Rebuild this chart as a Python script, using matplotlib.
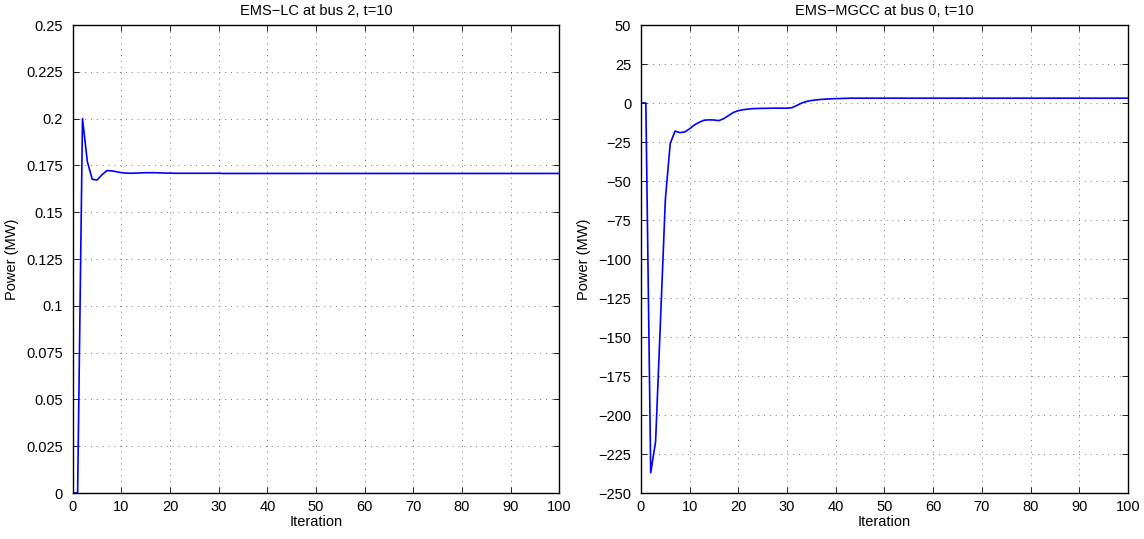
import matplotlib
matplotlib.use("Agg")
import matplotlib.pyplot as plt
import numpy as np

plt.rcParams['font.family'] = ['Liberation Sans', 'DejaVu Sans']
plt.rcParams['font.size'] = 10.5

iterations = list(range(0, 101))

lc_power = [
    0.0, 0.0, 0.2, 0.177, 0.1676, 0.1672, 0.1700, 0.1722, 0.1721, 0.1716,
    0.1711, 0.1709, 0.1708, 0.1709, 0.1710, 0.1711, 0.1711, 0.1711, 0.1710, 0.1709,
    0.1709, 0.1708, 0.1708, 0.1708, 0.1708, 0.1708, 0.1708, 0.1708, 0.1708, 0.1708,
    0.1708, 0.1707, 0.1707, 0.1707, 0.1707, 0.1707, 0.1707, 0.1707, 0.1707, 0.1707,
    0.1707, 0.1707, 0.1707, 0.1707, 0.1707, 0.1707, 0.1707, 0.1707, 0.1707, 0.1707,
    0.1707, 0.1707, 0.1707, 0.1707, 0.1707, 0.1707, 0.1707, 0.1707, 0.1707, 0.1707,
    0.1707, 0.1707, 0.1707, 0.1707, 0.1707, 0.1707, 0.1707, 0.1707, 0.1707, 0.1707,
    0.1707, 0.1707, 0.1707, 0.1707, 0.1707, 0.1707, 0.1707, 0.1707, 0.1707, 0.1707,
    0.1707, 0.1707, 0.1707, 0.1707, 0.1707, 0.1707, 0.1707, 0.1707, 0.1707, 0.1707,
    0.1707, 0.1707, 0.1707, 0.1707, 0.1707, 0.1707, 0.1707, 0.1707, 0.1707, 0.1707,
    0.1707,
]

mgcc_power = [
    0.0, 0.0, -237.0, -217.0, -140.0, -62.0, -26.0, -18.0, -19.0, -18.5,
    -16.5, -14.0, -12.3, -11.0, -10.8, -10.9, -11.3, -10.0, -8.0, -6.0,
    -4.9, -4.3, -3.9, -3.6, -3.5, -3.4, -3.4, -3.3, -3.3, -3.3,
    -3.3, -3.0, -1.6, 0.0, 1.0, 1.6, 2.0, 2.3, 2.5, 2.7,
    2.8, 2.9, 3.0, 3.1, 3.1, 3.1, 3.1, 3.1, 3.1, 3.1,
    3.1, 3.1, 3.1, 3.1, 3.1, 3.1, 3.1, 3.1, 3.1, 3.1,
    3.1, 3.1, 3.1, 3.1, 3.1, 3.1, 3.1, 3.1, 3.1, 3.1,
    3.1, 3.1, 3.1, 3.1, 3.1, 3.1, 3.1, 3.1, 3.1, 3.1,
    3.1, 3.1, 3.1, 3.1, 3.1, 3.1, 3.1, 3.1, 3.1, 3.1,
    3.1, 3.1, 3.1, 3.1, 3.1, 3.1, 3.1, 3.1, 3.1, 3.1,
    3.1,
]

x_ticks = [0, 10, 20, 30, 40, 50, 60, 70, 80, 90, 100]
lc_ticks = [0, 0.025, 0.05, 0.075, 0.1, 0.125, 0.15, 0.175, 0.2, 0.225, 0.25]
lc_labels = ["0", "0.025", "0.05", "0.075", "0.1", "0.125", "0.15", "0.175", "0.2", "0.225", "0.25"]
mgcc_ticks = [-250, -225, -200, -175, -150, -125, -100, -75, -50, -25, 0, 25, 50]

fig = plt.figure(figsize=(11.44, 5.39), dpi=100)
ax1 = fig.add_axes([0.0636, 0.0853, 0.4253, 0.8683])
ax2 = fig.add_axes([0.5603, 0.0853, 0.4257, 0.8683])


def style(ax):
    ax.set_xlim(0, 100)
    ax.set_xticks(x_ticks)
    ax.tick_params(direction='in', top=True, right=True, length=4, width=0.6,
                   labelsize=10.5, colors='black')
    ax.tick_params(axis='y', pad=7)
    ax.tick_params(axis='x', pad=5)
    ax.grid(True, color='#555555', linestyle=(0, (1, 5)), linewidth=0.7, alpha=0.8)
    for s in ax.spines.values():
        s.set_linewidth(1.0)
    ax.set_xlabel("Iteration", labelpad=1)
    ax.set_ylabel("Power (MW)", labelpad=5)


ax1.plot(iterations, lc_power, color=(0, 0, 1), linewidth=1.2)
style(ax1)
ax1.set_ylim(0, 0.25)
ax1.set_yticks(lc_ticks)
ax1.set_yticklabels(lc_labels)
ax1.set_title("EMS\u2212LC at bus 2, t=10", fontsize=10.5, pad=7)

ax2.plot(iterations, mgcc_power, color=(0, 0, 1), linewidth=1.2)
style(ax2)
ax2.set_ylim(-250, 50)
ax2.set_yticks(mgcc_ticks)
ax2.set_title("EMS\u2212MGCC at bus 0, t=10", fontsize=10.5, pad=7)

fig.savefig("out.png", dpi=100)
